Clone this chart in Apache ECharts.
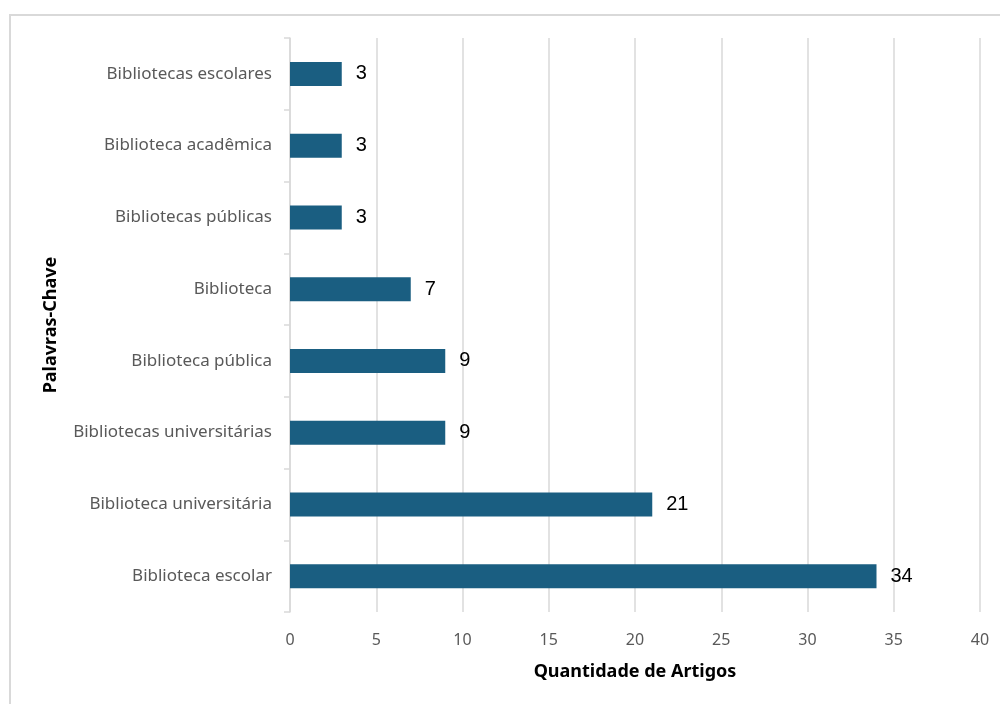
<!DOCTYPE html>
<html>
<head>
<meta charset="utf-8">
<script src="https://cdn.jsdelivr.net/npm/echarts@6/dist/echarts.min.js"></script>
<style>
html,body{margin:0;padding:0;background:#fff;}
#frame{position:absolute;left:9px;top:14px;width:1000px;height:700px;border:2px solid #d9d9d9;box-sizing:border-box;}
#chart{position:absolute;left:0;top:0;width:1000px;height:704px;}
</style>
</head>
<body>
<div id="frame"></div>
<div id="chart"></div>
<script>
const categories = ["Bibliotecas escolares","Biblioteca acadêmica","Bibliotecas públicas","Biblioteca","Biblioteca pública","Bibliotecas universitárias","Biblioteca universitária","Biblioteca escolar"];
const values = [3,3,3,7,9,9,21,34];
const xTicks = [0,5,10,15,20,25,30,35,40];

const chart = echarts.init(document.getElementById('chart'), null, {renderer:'canvas'});
chart.setOption({
  animation:false,
  backgroundColor:'transparent',
  grid:{left:290,right:20,top:38,bottom:92,containLabel:false},
  xAxis:{
    type:'value', min:xTicks[0], max:xTicks[xTicks.length-1], interval:5,
    name:'Quantidade de Artigos', nameLocation:'middle', nameGap:51,
    nameTextStyle:{fontFamily:'Noto Sans',fontWeight:'bold',fontSize:18,color:'#000'},
    axisLine:{show:false}, axisTick:{show:false},
    axisLabel:{fontFamily:'Noto Sans',fontSize:16,color:'#595959',margin:20},
    splitLine:{show:true,lineStyle:{color:'#d9d9d9',width:1.5}}
  },
  yAxis:{
    type:'category', data:categories, inverse:true,
    name:'Palavras-Chave', nameLocation:'middle', nameGap:230,
    nameTextStyle:{fontFamily:'Noto Sans',fontWeight:'bold',fontSize:18,color:'#000'},
    axisLine:{show:true,lineStyle:{color:'#d9d9d9',width:1.5}},
    axisTick:{show:true,length:6,lineStyle:{color:'#d9d9d9',width:1.5}},
    axisLabel:{fontFamily:'Noto Sans',fontSize:17,color:'#595959',margin:18}
  },
  series:[{
    type:'bar', data:values, barWidth:24,
    itemStyle:{color:'#1a5e81'},
    label:{show:true,position:'right',distance:14,fontFamily:'Liberation Sans',fontSize:20,color:'#000'}
  }]
});
</script>
</body>
</html>
